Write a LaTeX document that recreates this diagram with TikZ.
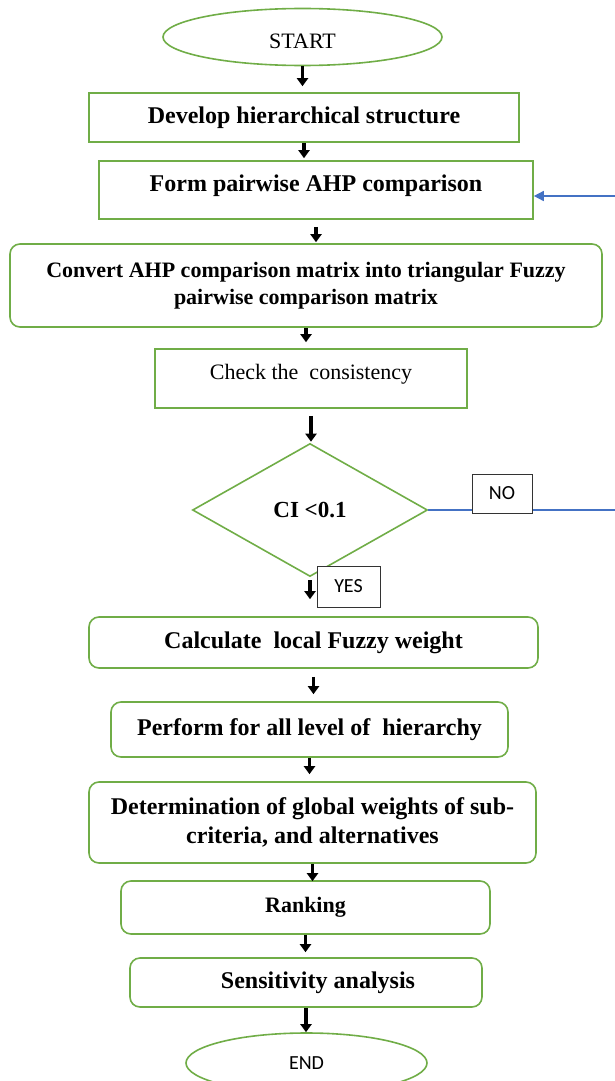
\documentclass[tikz,border=0pt]{standalone}
\usepackage{fontspec}
\setmainfont{Liberation Serif}
\newfontfamily\calibri{Carlito}
\usetikzlibrary{shapes.geometric,arrows.meta}
\definecolor{boxgreen}{RGB}{112,173,71}
\definecolor{lineblue}{RGB}{68,114,196}
\tikzstyle{startstop}=[ellipse,draw=boxgreen,line width=1.6pt,inner sep=0pt,text centered,font=\fontsize{22}{26}\selectfont]
\tikzstyle{process}=[rectangle,draw=boxgreen,line width=1.6pt,inner sep=0pt,text centered,align=center,font=\fontsize{24}{28}\selectfont\bfseries]
\tikzstyle{roundproc}=[process,rounded corners=10pt]
\tikzstyle{decision}=[diamond,draw=boxgreen,line width=1.6pt,inner sep=0pt,font=\fontsize{23}{28}\selectfont\bfseries]
\tikzstyle{tag}=[rectangle,draw=black!80,line width=0.8pt,fill=white,inner sep=0pt,font=\calibri\fontsize{20}{24}\selectfont]
\tikzstyle{arrow}=[line width=3.5pt,-{Triangle[length=8pt,width=11pt]},shorten <=0pt,shorten >=1pt]
\tikzstyle{backarrow}=[draw=lineblue,line width=1.5pt,-{Triangle[length=10pt,width=10pt]}]

\begin{document}
\begin{tikzpicture}[node distance=80pt,x=1pt,y=1pt]
            \useasboundingbox (0,0) rectangle (615,-1081);
            \node (start)[startstop,minimum width=279pt,minimum height=57pt] at (302.5,-37){\raisebox{-4pt}[\height][\depth]{START}};
            \node (develop)[process,below of=start,yshift=-0.5pt,xshift=1.5pt,minimum width=430pt,minimum height=49pt]{Develop hierarchical structure};
            \node (form)[process,below of=develop,yshift=7.5pt,xshift=12pt,minimum width=434pt,minimum height=58pt]{\raisebox{4pt}[\height][\depth]{Form pairwise AHP comparison}};
            \node (convert)[roundproc,below of=form,yshift=-15.5pt,xshift=-10pt,minimum width=592pt,minimum height=83pt,font=\fontsize{22}{27}\selectfont\bfseries]{Convert AHP comparison matrix into triangular Fuzzy\\pairwise comparison matrix};
            \node (check)[process,below of=convert,yshift=-13pt,xshift=5pt,minimum width=312pt,minimum height=59pt,font=\fontsize{22}{26}\selectfont]{\raisebox{4pt}[\height][\depth]{Check the~ consistency}};
            \node (ci)[decision,below of=check,yshift=-51.5pt,xshift=-1pt,minimum width=235pt,minimum height=133pt]{CI <0.1};
            \node (calc)[roundproc,below of=ci,yshift=-52.5pt,xshift=3.5pt,minimum width=449pt,minimum height=51pt]{Calculate~ local Fuzzy weight};
            \node (perform)[roundproc,below of=calc,yshift=-7pt,xshift=-4pt,minimum width=397pt,minimum height=55pt]{Perform for all level of~ hierarchy};
            \node (determ)[roundproc,below of=perform,yshift=-13pt,xshift=3pt,minimum width=447pt,minimum height=81pt,font=\fontsize{24}{29}\selectfont\bfseries]{Determination of global weights of sub-\\criteria, and alternatives};
            \node (ranking)[roundproc,below of=determ,yshift=-5pt,xshift=-7pt,minimum width=369pt,minimum height=53pt,font=\fontsize{22}{26}\selectfont\bfseries]{Ranking};
            \node (sens)[roundproc,below of=ranking,yshift=5pt,xshift=0.5pt,minimum width=352pt,minimum height=49pt]{\hspace*{24pt}Sensitivity analysis};
            \node (end)[startstop,below of=sens,yshift=-0.5pt,xshift=0.5pt,minimum width=241pt,minimum height=60pt,font=\calibri\fontsize{20}{24}\selectfont]{END};
            \draw [arrow,shorten >=6pt] (start.south) -- (start.south |- develop.north);
            \draw [arrow,shorten >=2pt] (develop.south) -- (develop.south |- form.north);
            \draw [arrow,shorten <=7pt] (form.south) -- (form.south |- convert.north);
            \draw [arrow,shorten >=6pt] (convert.south) -- (convert.south |- check.north);
            \draw [arrow,shorten <=7pt] (check.south) -- (check.south |- ci.north);
            \draw [arrow,shorten <=3pt,shorten >=17pt] (ci.south) -- (ci.south |- calc.north);
            \draw [arrow,shorten <=8pt,shorten >=7pt] (calc.south) -- (calc.south |- perform.north);
            \draw [arrow,shorten >=7pt] (perform.south) -- (perform.south |- determ.north);
            \draw [arrow,shorten >=-1pt] (determ.south) -- (determ.south |- ranking.north);
            \draw [arrow,shorten >=5pt] (ranking.south) -- (ranking.south |- sens.north);
            \draw [arrow,shorten >=0pt] (sens.south) -- (sens.south |- end.north);
            \draw [backarrow] (ci.east) -| ([xshift=100pt,yshift=-6pt]form.east) -- ([yshift=-6pt]form.east);
            \node (yes)[tag,below of=ci,yshift=3.5pt,xshift=38.5pt,minimum width=63pt,minimum height=41pt]{YES};
            \node (no)[tag,right of=ci,yshift=16.5pt,xshift=112pt,minimum width=60pt,minimum height=39pt]{NO};
        \end{tikzpicture}
\end{document}
